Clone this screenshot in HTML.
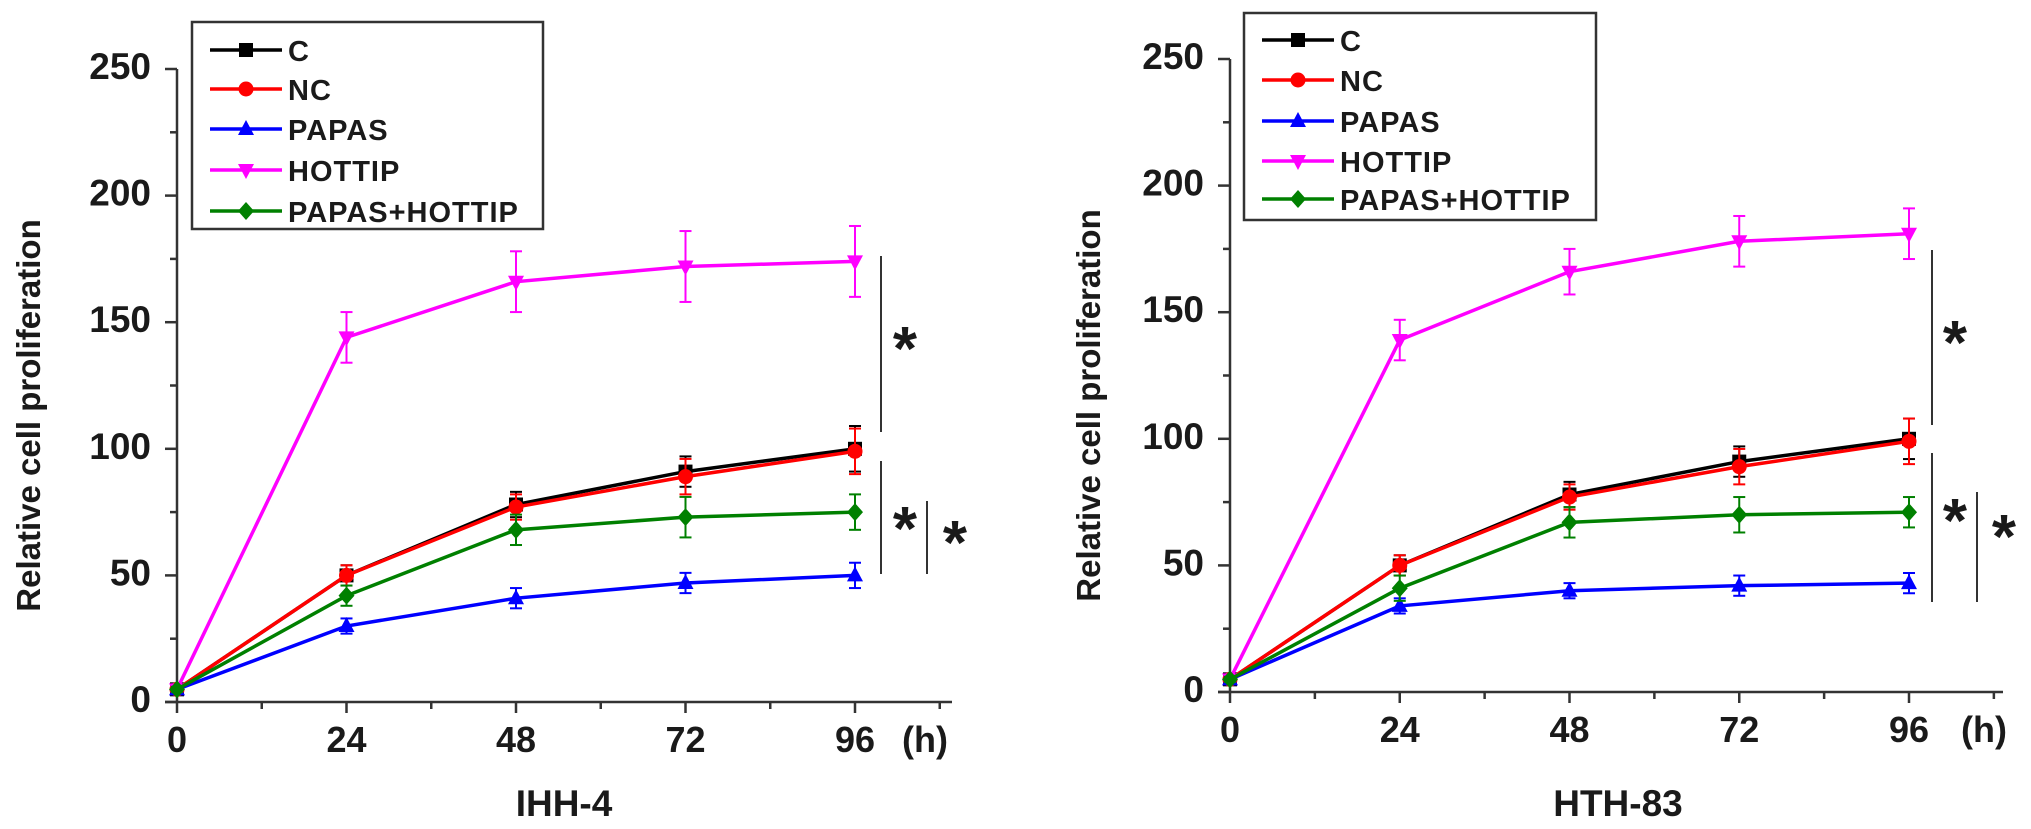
<!DOCTYPE html>
<html><head><meta charset="utf-8"><style>
html,body{margin:0;padding:0;background:#fff;}
svg{display:block;}
text{font-family:"Liberation Sans",Arial,sans-serif;font-weight:bold;fill:#1a1a1a;}
</style></head><body>
<svg id="chart" width="2031" height="829" viewBox="0 0 2031 829" xmlns="http://www.w3.org/2000/svg"></svg>
<script>
const hours = [0, 24, 48, 72, 96];
const seriesNames = ["C", "NC", "PAPAS", "HOTTIP", "PAPAS+HOTTIP"];
const yTicks = [0, 50, 100, 150, 200, 250];
const xTicks = [0, 24, 48, 72, 96];
// IHH-4
const ihhC = [5, 50, 78, 91, 100];
const ihhNC = [5, 50, 77, 89, 99];
const ihhPAPAS = [5, 30, 41, 47, 50];
const ihhHOTTIP = [5, 144, 166, 172, 174];
const ihhPH = [5, 42, 68, 73, 75];
const ihhErrC = [1, 4, 5, 6, 9];
const ihhErrNC = [1, 4, 5, 7, 9];
const ihhErrPAPAS = [1, 3, 4, 4, 5];
const ihhErrHOTTIP = [1, 10, 12, 14, 14];
const ihhErrPH = [1, 4, 6, 8, 7];
// HTH-83
const hthC = [5, 50, 78, 91, 100];
const hthNC = [5, 50, 77, 89, 99];
const hthPAPAS = [5, 34, 40, 42, 43];
const hthHOTTIP = [5, 139, 166, 178, 181];
const hthPH = [5, 41, 67, 70, 71];
const hthErrC = [1, 4, 5, 6, 8];
const hthErrNC = [1, 4, 5, 7, 9];
const hthErrPAPAS = [1, 3, 3, 4, 4];
const hthErrHOTTIP = [1, 8, 9, 10, 10];
const hthErrPH = [1, 5, 6, 7, 6];

const colors = ["#000000", "#ff0000", "#0000ff", "#ff00ff", "#008000"];
const markers = ["square", "circle", "tri", "tridown", "diamond"];
const NS = "http://www.w3.org/2000/svg";
const svg = document.getElementById("chart");
function mk(tag, attrs, parent) {
  const e = document.createElementNS(NS, tag);
  for (const k in attrs) e.setAttribute(k, attrs[k]);
  (parent || svg).appendChild(e);
  return e;
}
function marker(g, type, x, y, c) {
  let m;
  if (type === "square") m = mk("rect", {x: x-7, y: y-7, width: 14, height: 14, fill: c}, g);
  else if (type === "circle") m = mk("circle", {cx: x, cy: y, r: 7.5, fill: c}, g);
  else if (type === "tri") m = mk("polygon", {points: `${x},${y-9} ${x-8},${y+6} ${x+8},${y+6}`, fill: c}, g);
  else if (type === "tridown") m = mk("polygon", {points: `${x},${y+9} ${x-8},${y-6} ${x+8},${y-6}`, fill: c}, g);
  else m = mk("polygon", {points: `${x},${y-9} ${x+8},${y} ${x},${y+9} ${x-8},${y}`, fill: c}, g);
  return m;
}
function panel(p) {
  const g = mk("g", {});
  
  
  const xs = v => p.x0 + (v / 96) * (p.x96 - p.x0);
  const ys = v => p.y0 - (v / 250) * (p.y0 - p.y250);
  const ax = mk("g", {stroke: "#333", "stroke-width": 2.5}, g);
  
  
  mk("line", {x1: p.x0, y1: p.y250, x2: p.x0, y2: p.y0}, ax);
  mk("line", {x1: p.x0 - 12, y1: p.y0, x2: p.xEnd, y2: p.y0}, ax);
  for (let v = 0; v <= 250; v += 25) {
    const len = v % 50 === 0 ? 12 : 7;
    mk("line", {x1: p.x0 - len, y1: ys(v), x2: p.x0, y2: ys(v)}, ax);
  }
  for (let v = 0; v <= 108; v += 12) {
    const len = v % 24 === 0 ? 11 : 7;
    mk("line", {x1: xs(v), y1: p.y0, x2: xs(v), y2: p.y0 + len}, ax);
  }
  yTicks.forEach(v => {
    const t = mk("text", {x: p.x0 - 26, y: ys(v) + 10, "text-anchor": "end", "font-size": 37}, g);
    t.textContent = v;
    
    
  });
  xTicks.forEach(v => {
    const t = mk("text", {x: xs(v), y: p.y0 + 50, "text-anchor": "middle", "font-size": 36}, g);
    t.textContent = v;
    
    
  });
  const hu = mk("text", {x: p.hX, y: p.y0 + 50, "text-anchor": "middle", "font-size": 36}, g);
  hu.textContent = "(h)";
  
  
  const xt = mk("text", {x: p.titleX, y: 816, "text-anchor": "middle", "font-size": 37}, g);
  xt.textContent = p.title;
  
  
  const yt = mk("text", {x: 0, y: 0, "text-anchor": "middle", "font-size": 33, transform: `translate(${p.yTitleX},${(p.y0 + p.y250) / 2 + 30}) rotate(-90)`}, g);
  yt.textContent = "Relative cell proliferation";
  
  
  p.series.forEach((vals, i) => {
    const sg = mk("g", {}, g);
    
    
    const c = colors[i];
    const errs = p.errs[i];
    vals.forEach((v, j) => {
      const x = xs(hours[j]);
      mk("line", {x1: x, y1: ys(v + errs[j]), x2: x, y2: ys(v - errs[j]), stroke: c, "stroke-width": 2}, sg);
      mk("line", {x1: x - 6, y1: ys(v + errs[j]), x2: x + 6, y2: ys(v + errs[j]), stroke: c, "stroke-width": 2}, sg);
      mk("line", {x1: x - 6, y1: ys(v - errs[j]), x2: x + 6, y2: ys(v - errs[j]), stroke: c, "stroke-width": 2}, sg);
    });
    const pts = vals.map((v, j) => xs(hours[j]) + "," + ys(v)).join(" ");
    mk("polyline", {points: pts, fill: "none", stroke: c, "stroke-width": 3.5}, sg);
    vals.forEach((v, j) => {
      const m = marker(sg, markers[i], xs(hours[j]), ys(v), c);
      
      
    });
  });
  const lg = mk("g", {}, g);
  
  
  mk("rect", {x: p.lg.x, y: p.lg.y, width: p.lg.w, height: p.lg.h, fill: "#fff", stroke: "#333", "stroke-width": 2.5}, lg);
  seriesNames.forEach((n, i) => {
    const ry = p.lg.rows[i];
    const eg = mk("g", {}, lg);
    
    
    mk("line", {x1: p.lg.x + 18, y1: ry, x2: p.lg.x + 90, y2: ry, stroke: colors[i], "stroke-width": 3.5}, eg);
    marker(eg, markers[i], p.lg.x + 54, ry, colors[i]);
    const t = mk("text", {x: p.lg.x + 96, y: ry + 11, "font-size": 29, "letter-spacing": 1}, eg);
    t.textContent = n;
  });
  p.brackets.forEach(b => {
    const bg = mk("g", {}, g);
    
    
    mk("line", {x1: b.x, y1: b.y1, x2: b.x, y2: b.y2, stroke: "#333", "stroke-width": 2}, bg);
    const t = mk("text", {x: b.sx, y: b.sy + 30, "text-anchor": "middle", "font-size": 62}, bg);
    t.textContent = "*";
  });
}
panel({
  name: "ihh4", title: "IHH-4", x0: 177, x96: 855, xEnd: 952, y0: 702, y250: 69,
  hX: 925, titleX: 564, yTitleX: 40,
  series: [ihhC, ihhNC, ihhPAPAS, ihhHOTTIP, ihhPH],
  errs: [ihhErrC, ihhErrNC, ihhErrPAPAS, ihhErrHOTTIP, ihhErrPH],
  lg: {x: 192, y: 22, w: 351, h: 207, rows: [50, 89, 129, 170, 211]},
  brackets: [{x: 881, y1: 256, y2: 432, sx: 905, sy: 340}, {x: 881, y1: 461, y2: 574, sx: 905, sy: 520}, {x: 927, y1: 501, y2: 574, sx: 955, sy: 534}]
});
panel({
  name: "hth83", title: "HTH-83", x0: 1230, x96: 1909, xEnd: 2003, y0: 692, y250: 59,
  hX: 1984, titleX: 1618, yTitleX: 1100,
  series: [hthC, hthNC, hthPAPAS, hthHOTTIP, hthPH],
  errs: [hthErrC, hthErrNC, hthErrPAPAS, hthErrHOTTIP, hthErrPH],
  lg: {x: 1244, y: 13, w: 352, h: 207, rows: [40, 80, 121, 161, 199]},
  brackets: [{x: 1932, y1: 250, y2: 425, sx: 1955, sy: 334}, {x: 1932, y1: 453, y2: 602, sx: 1955, sy: 512}, {x: 1977, y1: 492, y2: 602, sx: 2004, sy: 528}]
});
</script>
</body></html>
